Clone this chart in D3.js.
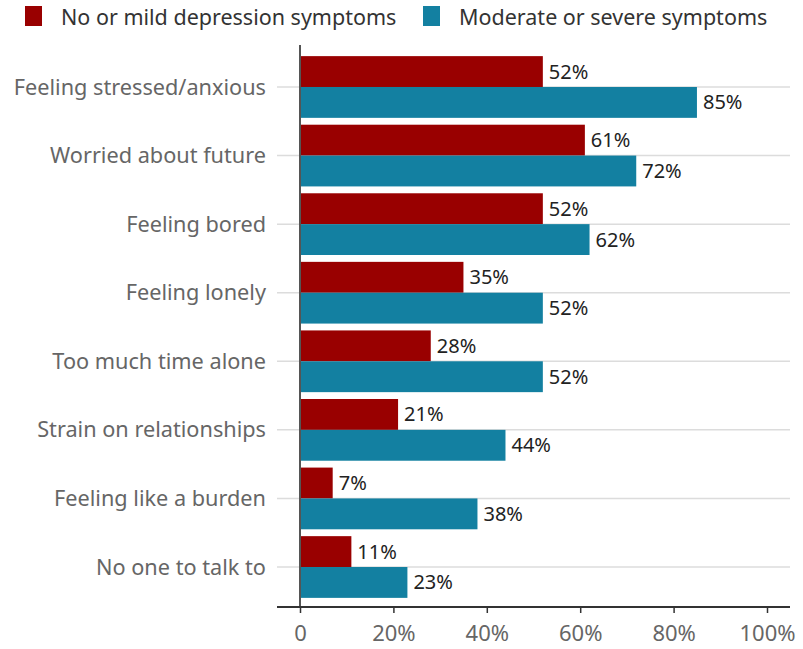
<html>
<head>
<script src="https://cdn.jsdelivr.net/npm/d3@7"></script>
<style>
body { margin: 0; background: #fff; }
text { font-family: "Noto Sans", sans-serif; }
</style>
</head>
<body>
<div id="chart"></div>
<script>
var categories = ["Feeling stressed/anxious", "Worried about future", "Feeling bored", "Feeling lonely",
                  "Too much time alone", "Strain on relationships", "Feeling like a burden", "No one to talk to"];
var seriesNames = ["No or mild depression symptoms", "Moderate or severe symptoms"];
var mild = [52, 61, 52, 35, 28, 21, 7, 11];
var severe = [85, 72, 62, 52, 52, 44, 38, 23];
var ticks = [0, 20, 40, 60, 80, 100];
var colors = ["#990000", "#1380a1"];

var width = 803, height = 649;
var svg = d3.select("#chart").append("svg")
    .attr("width", width)
    .attr("height", height);

var x = d3.scaleLinear().domain([0, 100]).range([300, 767]);
var y = d3.scaleBand().domain(categories).range([52.7, 601.3]).paddingInner(0.1).paddingOuter(0.05);

// gridlines at category centres
svg.append("g").selectAll("line")
    .data(categories)
  .enter().append("line")
    .attr("x1", 277).attr("x2", 790)
    .attr("y1", function(d) { return y(d) + y.bandwidth() / 2; })
    .attr("y2", function(d) { return y(d) + y.bandwidth() / 2; })
    .attr("stroke", "#dcdcdc").attr("stroke-width", 1.5);

var rows = categories.map(function(c, i) { return { cat: c, vals: [mild[i], severe[i]] }; });

var group = svg.append("g").selectAll("g")
    .data(rows)
  .enter().append("g")
    .attr("transform", function(d) { return "translate(0," + y(d.cat) + ")"; });

var bh = y.bandwidth() / 2;
group.selectAll("rect")
    .data(function(d) { return d.vals; })
  .enter().append("rect")
    .attr("x", x(0))
    .attr("y", function(d, i) { return i * bh; })
    .attr("width", function(d) { return x(d) - x(0); })
    .attr("height", bh)
    .attr("fill", function(d, i) { return colors[i]; });

group.selectAll("text.val")
    .data(function(d) { return d.vals; })
  .enter().append("text")
    .attr("class", "val")
    .attr("x", function(d) { return x(d) + 6; })
    .attr("y", function(d, i) { return i * bh + bh / 2; })
    .attr("dy", "0.35em")
    .attr("font-size", 20)
    .attr("fill", "#222")
    .text(function(d) { return d + "%"; });

// category labels
svg.append("g").selectAll("text")
    .data(categories)
  .enter().append("text")
    .attr("x", 266)
    .attr("y", function(d) { return y(d) + y.bandwidth() / 2; })
    .attr("dy", "0.35em")
    .attr("text-anchor", "end")
    .attr("font-size", 21.7)
    .attr("fill", "#666")
    .text(function(d) { return d; });

// vertical zero line
svg.append("line")
    .attr("x1", x(0)).attr("x2", x(0))
    .attr("y1", 45).attr("y2", 607)
    .attr("stroke", "#555").attr("stroke-width", 2);

// x axis
var xAxis = svg.append("g")
    .attr("transform", "translate(0,607)")
    .call(d3.axisBottom(x).tickValues(ticks).tickSize(6).tickPadding(12)
        .tickFormat(function(d) { return d === 0 ? "0" : d + "%"; }));
xAxis.select(".domain").remove();
xAxis.insert("line", ":first-child")
    .attr("x1", 277).attr("x2", 790)
    .attr("stroke", "#333").attr("stroke-width", 2);
xAxis.selectAll(".tick line").attr("stroke", "#333").attr("stroke-width", 1.5);
xAxis.selectAll(".tick text")
    .attr("font-family", "Noto Sans")
    .attr("font-size", 22)
    .attr("fill", "#666");

// legend
var legendX = [25, 423];
var legend = svg.append("g").selectAll("g")
    .data(seriesNames)
  .enter().append("g")
    .attr("transform", function(d, i) { return "translate(" + legendX[i] + ",0)"; });
legend.append("rect")
    .attr("x", 0).attr("y", 6)
    .attr("width", 17).attr("height", 20)
    .attr("fill", function(d, i) { return colors[i]; });
legend.append("text")
    .attr("x", 36).attr("y", 17)
    .attr("dy", "0.35em")
    .attr("font-size", 21.5)
    .attr("fill", "#333")
    .text(function(d) { return d; });
</script>
</body>
</html>
